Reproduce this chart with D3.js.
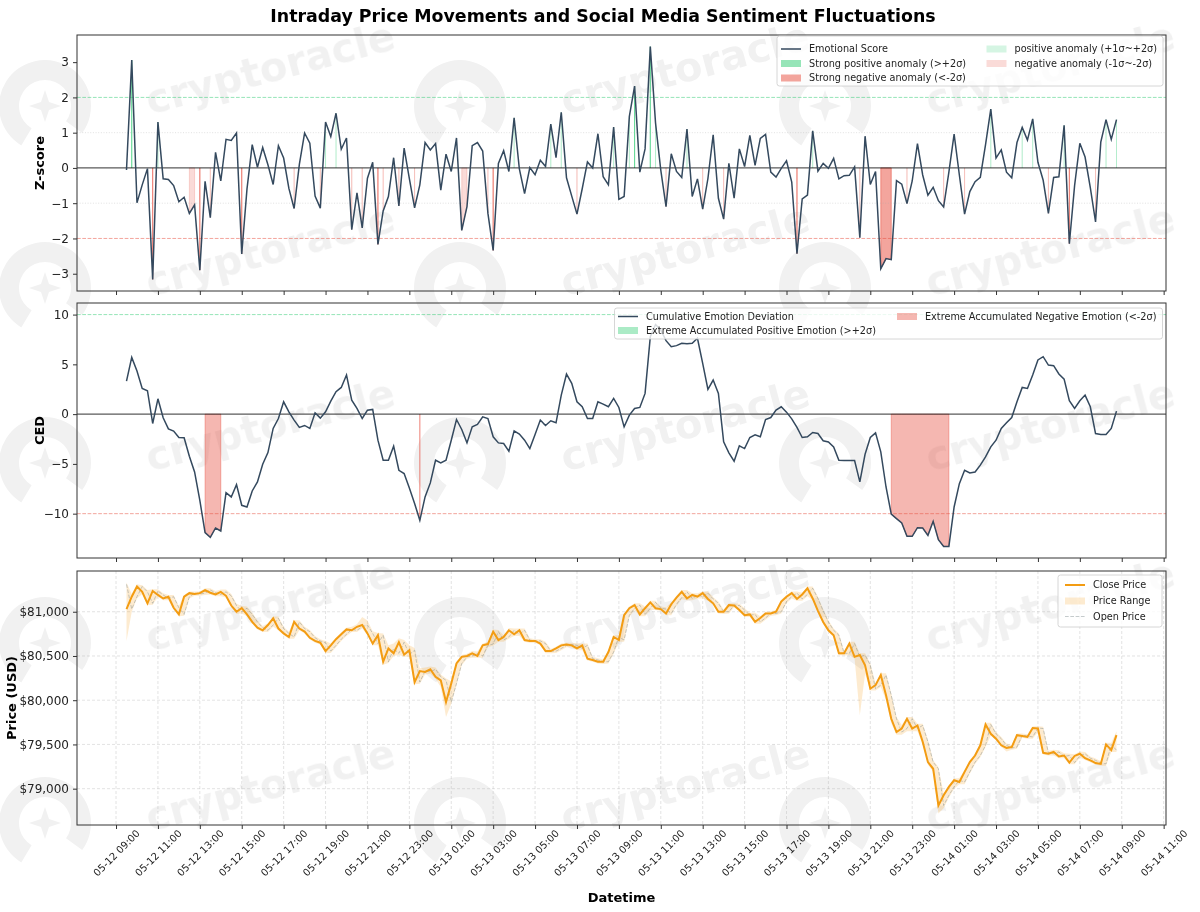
<!DOCTYPE html>
<html>
<head>
<meta charset="utf-8">
<script src="https://cdn.jsdelivr.net/npm/d3@7"></script>
<style>
  body { margin: 0; background: #fff; }
  svg text { font-family: "DejaVu Sans", sans-serif; }
</style>
</head>
<body>
<svg id="chart" width="1200" height="912"></svg>
<script>
// time axis: one reading every 15 minutes from 05-12 09:30
const startTime = new Date(2025, 4, 12, 9, 30);
const stepMinutes = 15;

// emotional z-score
const zScore = [
  -0.06, 3.06, -0.99, -0.48, -0.02, -3.16, 1.30, -0.31, -0.33, -0.50,
  -0.96, -0.83, -1.29, -1.05, -2.90, -0.38, -1.41, 0.44, -0.37, 0.81,
  0.78, 0.99, -2.44, -0.60, 0.66, 0.02, 0.58, 0.09, -0.47, 0.63,
  0.28, -0.58, -1.15, 0.10, 0.99, 0.70, -0.80, -1.14, 1.30, 0.89,
  1.55, 0.53, 0.85, -1.75, -0.71, -1.70, -0.29, 0.16, -2.17, -1.22,
  -0.81, 0.29, -1.08, 0.56, -0.30, -1.13, -0.48, 0.72, 0.51, 0.69,
  -0.63, 0.39, -0.10, 0.85, -1.77, -1.10, 0.63, 0.72, 0.48, -1.29,
  -2.34, 0.13, 0.49, -0.10, 1.42, -0.03, -0.73, 0.01, -0.19, 0.22,
  0.04, 1.24, 0.29, 1.58, -0.28, -0.80, -1.31, -0.59, 0.17, 0.00,
  0.97, -0.25, -0.48, 1.16, -0.89, -0.81, 1.46, 2.32, -0.12, 0.54,
  3.44, 1.27, -0.06, -1.10, 0.40, -0.10, -0.27, 1.10, -0.81, -0.31,
  -1.17, -0.30, 0.94, -0.86, -1.45, 0.13, -0.86, 0.54, 0.04, 0.92,
  0.07, 0.84, 0.95, -0.12, -0.26, -0.01, 0.20, -0.40, -2.43, -0.88,
  -0.77, 1.05, -0.09, 0.13, -0.01, 0.27, -0.31, -0.22, -0.21, 0.03,
  -1.98, 0.90, -0.47, -0.10, -2.86, -2.57, -2.60, -0.36, -0.46, -1.01,
  -0.37, 0.69, -0.20, -0.77, -0.55, -0.93, -1.11, -0.12, 0.96, -0.20,
  -1.31, -0.67, -0.39, -0.27, 0.66, 1.67, 0.28, 0.51, -0.12, -0.28,
  0.72, 1.15, 0.79, 1.39, 0.16, -0.35, -1.29, -0.27, -0.25, 1.21,
  -2.15, -0.50, 0.70, 0.31, -0.56, -1.53, 0.73, 1.37, 0.81, 1.37
];

// cumulative emotion deviation
const cedValues = [
  3.32, 5.70, 4.33, 2.58, 2.35, -0.94, 1.54, -0.37, -1.48, -1.71,
  -2.35, -2.38, -4.23, -5.81, -8.66, -11.91, -12.38, -11.44, -11.74, -7.89,
  -8.32, -7.08, -9.16, -9.33, -7.72, -6.81, -5.03, -3.86, -1.44, -0.44,
  1.24, 0.23, -0.60, -1.34, -1.14, -1.44, 0.13, -0.40, 0.23, 1.31,
  2.25, 2.68, 3.93, 1.41, 0.57, -0.44, 0.40, 0.47, -2.62, -4.63,
  -4.63, -3.22, -5.64, -5.97, -7.42, -8.99, -10.67, -8.32, -6.91, -4.63,
  -4.90, -4.63, -2.62, -0.54, -1.54, -2.89, -1.28, -1.04, -0.27, -0.44,
  -2.28, -2.89, -2.95, -3.72, -1.68, -2.01, -2.62, -3.46, -2.05, -0.60,
  -1.14, -0.67, -0.87, 1.91, 4.03, 3.09, 1.24, 0.74, -0.44, -0.44,
  1.24, 1.01, 0.74, 1.58, 0.67, -1.28, -0.10, 0.57, 0.67, 2.08,
  7.79, 9.00, 8.46, 7.38, 6.78, 6.88, 7.11, 7.08, 7.11, 7.62,
  5.10, 2.48, 3.42, 2.08, -2.79, -3.89, -4.73, -3.19, -3.46, -2.35,
  -2.08, -2.28, -0.54, -0.34, 0.40, 0.74, 0.20, -0.47, -1.34, -2.35,
  -2.28, -1.85, -1.95, -2.68, -2.79, -3.29, -4.63, -4.66, -4.66, -4.66,
  -6.81, -4.03, -2.35, -1.88, -3.79, -7.32, -10.05, -10.50, -10.94, -12.28,
  -12.28, -11.41, -11.44, -12.18, -10.77, -12.62, -13.29, -13.29, -9.33, -6.98,
  -5.64, -5.91, -5.81, -5.13, -4.30, -3.29, -2.62, -1.44, -0.87, -0.34,
  1.24, 2.68, 2.58, 3.93, 5.44, 5.77, 4.93, 4.87, 4.03, 3.52,
  1.34, 0.57, 1.34, 1.91, 0.74, -1.95, -2.05, -2.05, -1.44, 0.30
];

// prices (USD)
const closePrice = [
  81030, 81170, 81285, 81225, 81095, 81235, 81190, 81150, 81170, 81045,
  80970, 81170, 81210, 81200, 81210, 81245, 81215, 81195, 81225, 81180,
  81070, 81000, 81040, 80970, 80885, 80820, 80790, 80850, 80925, 80810,
  80755, 80715, 80885, 80810, 80775, 80705, 80670, 80650, 80555, 80620,
  80690, 80745, 80800, 80790, 80830, 80850, 80755, 80640, 80735, 80435,
  80585, 80530, 80655, 80515, 80565, 80205, 80330, 80320, 80350, 80265,
  80225, 79980, 80190, 80415, 80490, 80500, 80530, 80500, 80620, 80635,
  80775, 80680, 80715, 80790, 80745, 80790, 80680, 80670, 80670, 80640,
  80555, 80555, 80585, 80620, 80630, 80620, 80585, 80620, 80470, 80455,
  80435, 80435, 80545, 80715, 80680, 80960, 81040, 81075, 80970, 81040,
  81105, 81040, 81030, 80980, 81085, 81160, 81225, 81150, 81190, 81170,
  81210, 81145, 81095, 81000, 81000, 81075, 81070, 81020, 80960, 80970,
  80885, 80930, 80980, 80980, 81000, 81115, 81170, 81210, 81145, 81195,
  81265, 81150, 81010, 80885, 80790, 80735, 80530, 80530, 80640, 80490,
  80510, 80395, 80130, 80170, 80285, 80055, 79790, 79640, 79680, 79790,
  79680, 79715, 79530, 79300, 79225, 78810, 78925, 79020, 79095, 79075,
  79190, 79300, 79375, 79490, 79725, 79620, 79565, 79490, 79460, 79470,
  79605, 79595, 79585, 79685, 79680, 79405, 79395, 79415, 79365, 79375,
  79295, 79370, 79395, 79345, 79320, 79290, 79280, 79500, 79435, 79605
];
const openPrice = [
  81310, 81030, 81170, 81285, 81225, 81095, 81235, 81190, 81150, 81170,
  81045, 80970, 81170, 81210, 81200, 81210, 81245, 81215, 81195, 81225,
  81180, 81070, 81000, 81040, 80970, 80885, 80820, 80790, 80850, 80925,
  80810, 80755, 80715, 80885, 80810, 80775, 80705, 80670, 80650, 80555,
  80620, 80690, 80745, 80800, 80790, 80830, 80850, 80755, 80640, 80735,
  80435, 80585, 80530, 80655, 80515, 80565, 80205, 80330, 80320, 80350,
  80265, 80225, 79980, 80190, 80415, 80490, 80500, 80530, 80500, 80620,
  80635, 80775, 80680, 80715, 80790, 80745, 80790, 80680, 80670, 80670,
  80640, 80555, 80555, 80585, 80620, 80630, 80620, 80585, 80620, 80470,
  80455, 80435, 80435, 80545, 80715, 80680, 80960, 81040, 81075, 80970,
  81040, 81105, 81040, 81030, 80980, 81085, 81160, 81225, 81150, 81190,
  81170, 81210, 81145, 81095, 81000, 81000, 81075, 81070, 81020, 80960,
  80970, 80885, 80930, 80980, 80980, 81000, 81115, 81170, 81210, 81145,
  81195, 81265, 81150, 81010, 80885, 80790, 80735, 80530, 80530, 80640,
  80490, 80510, 80395, 80130, 80170, 80285, 80055, 79790, 79640, 79680,
  79790, 79680, 79715, 79530, 79300, 79225, 78810, 78925, 79020, 79095,
  79075, 79190, 79300, 79375, 79490, 79725, 79620, 79565, 79490, 79460,
  79470, 79605, 79595, 79585, 79685, 79680, 79405, 79395, 79415, 79365,
  79375, 79295, 79370, 79395, 79345, 79320, 79290, 79280, 79500, 79435
];
const highPrice = [
  81330, 81200, 81310, 81300, 81245, 81255, 81255, 81210, 81190, 81190,
  81065, 81190, 81230, 81230, 81230, 81265, 81265, 81235, 81250, 81250,
  81200, 81090, 81065, 81060, 80990, 80905, 80840, 80870, 80945, 80945,
  80830, 80775, 80905, 80905, 80830, 80795, 80725, 80690, 80670, 80640,
  80710, 80765, 80820, 80830, 80860, 80940, 80900, 80780, 80760, 80755,
  80620, 80640, 80700, 80680, 80620, 80590, 80360, 80370, 80380, 80370,
  80290, 80245, 80215, 80440, 80510, 80525, 80555, 80550, 80640, 80660,
  80800, 80795, 80735, 80815, 80810, 80810, 80810, 80700, 80690, 80690,
  80660, 80580, 80605, 80640, 80650, 80650, 80640, 80640, 80640, 80490,
  80475, 80460, 80565, 80735, 80735, 80980, 81060, 81095, 81095, 81060,
  81125, 81125, 81060, 81050, 81105, 81180, 81245, 81245, 81210, 81210,
  81230, 81230, 81165, 81115, 81025, 81095, 81095, 81090, 81040, 80990,
  80990, 80950, 81000, 81005, 81020, 81135, 81190, 81230, 81230, 81215,
  81285, 81285, 81170, 81030, 80905, 80810, 80755, 80555, 80660, 80660,
  80530, 80530, 80415, 80190, 80305, 80305, 80075, 79810, 79720, 79810,
  79810, 79735, 79735, 79550, 79320, 79245, 78945, 79040, 79115, 79120,
  79210, 79320, 79395, 79510, 79745, 79745, 79640, 79585, 79510, 79495,
  79625, 79625, 79615, 79705, 79705, 79700, 79430, 79440, 79435, 79400,
  79395, 79390, 79420, 79415, 79365, 79340, 79310, 79520, 79520, 79650
];
const lowPrice = [
  80670, 81000, 81150, 81200, 81075, 81080, 81170, 81130, 81130, 81025,
  80950, 80955, 81150, 81180, 81180, 81190, 81195, 81175, 81175, 81160,
  81050, 80975, 80980, 80950, 80865, 80800, 80770, 80770, 80830, 80790,
  80735, 80695, 80695, 80790, 80755, 80685, 80650, 80630, 80530, 80535,
  80600, 80670, 80725, 80770, 80770, 80810, 80735, 80620, 80620, 80400,
  80420, 80500, 80510, 80490, 80490, 80180, 80185, 80290, 80300, 80240,
  80150, 79810, 79960, 80170, 80395, 80470, 80480, 80480, 80480, 80600,
  80615, 80660, 80660, 80695, 80725, 80725, 80660, 80650, 80650, 80620,
  80530, 80530, 80535, 80565, 80600, 80600, 80565, 80565, 80450, 80435,
  80415, 80410, 80415, 80525, 80660, 80660, 80940, 81020, 80950, 80950,
  81020, 81020, 81010, 80960, 80960, 81065, 81140, 81130, 81130, 81150,
  81150, 81125, 81075, 80980, 80975, 80980, 81050, 81000, 80940, 80940,
  80865, 80865, 80910, 80955, 80960, 80980, 81095, 81150, 81125, 81125,
  81175, 81130, 80990, 80865, 80770, 80715, 80510, 80505, 80510, 80470,
  79830, 80300, 80110, 80110, 80150, 80000, 79740, 79610, 79610, 79650,
  79650, 79650, 79500, 79270, 79190, 78720, 78780, 78900, 79000, 79050,
  79050, 79170, 79280, 79355, 79470, 79600, 79545, 79470, 79420, 79440,
  79450, 79575, 79565, 79565, 79640, 79385, 79375, 79375, 79345, 79345,
  79275, 79275, 79350, 79325, 79300, 79270, 79260, 79260, 79415, 79415
];

// thresholds and ticks
const zStrong = 2, zMild = 1;
const cedLimit = 10;
const zTicks = [-3, -2, -1, 0, 1, 2, 3];
const cedTicks = [-10, -5, 0, 5, 10];
const priceTicks = [79000, 79500, 80000, 80500, 81000];

const times = zScore.map((_, i) => d3.timeMinute.offset(startTime, i * stepMinutes));

const svg = d3.select("#chart");
const plotLeft = 77, plotRight = 1166;
const panelBoxes = [
  { top: 35, bottom: 291 },
  { top: 303, bottom: 558 },
  { top: 571, bottom: 825 }
];

const C = {
  line: "#34495e",
  green: "#2ecc71",
  red: "#e74c3c",
  orange: "#f39c12",
  open: "#7f8c8d",
  spine: "#333"
};

// watermark tiles (drawn first so everything sits on top)
const wm = svg.append("g").attr("opacity", 0.055);
[68, 250, 425, 605, 785].forEach(cy => {
  [270, 685, 1050].forEach(cx => {
    wm.append("text")
      .attr("transform", `translate(${cx},${cy}) rotate(-15)`)
      .attr("text-anchor", "middle")
      .attr("dy", "0.35em")
      .attr("font-size", 40)
      .attr("font-weight", "bold")
      .attr("fill", "#000")
      .text("cryptoracle");
    const lg = wm.append("g").attr("transform", `translate(${cx - 225},${cy + 38})`);
    lg.append("path")
      .attr("d", d3.arc()({ innerRadius: 26, outerRadius: 46, startAngle: -2.6, endAngle: 2.2 }))
      .attr("fill", "#000");
    lg.append("path")
      .attr("d", "M0,-16 L4,-4 L16,0 L4,4 L0,16 L-4,4 L-16,0 L-4,-4 Z")
      .attr("fill", "#000");
  });
});

// x scale with 5% margins
const tExt = d3.extent(times);
const tSpan = tExt[1] - tExt[0];
const x = d3.scaleTime()
  .domain([new Date(+tExt[0] - tSpan * 0.05), new Date(+tExt[1] + tSpan * 0.05)])
  .range([plotLeft, plotRight]);
const xTicks = d3.timeHour.range(new Date(2025, 4, 12, 9), new Date(2025, 4, 14, 11, 1), 2);

function padded(lo, hi) {
  const r = hi - lo;
  return [lo - r * 0.05, hi + r * 0.05];
}

function runs(values, test) {
  const out = [];
  let s = -1;
  values.forEach((v, i) => {
    if (test(v)) { if (s < 0) s = i; }
    else if (s >= 0) { out.push([s, i - 1]); s = -1; }
  });
  if (s >= 0) out.push([s, values.length - 1]);
  return out;
}

function drawFill(g, y, values, test, color, opacity) {
  const area = d3.area()
    .x(i => x(times[i]))
    .y0(y(0))
    .y1(i => y(values[i]));
  runs(values, test).forEach(([a, b]) => {
    g.append("path")
      .attr("d", area(d3.range(a, b + 1)))
      .attr("fill", color).attr("fill-opacity", opacity)
      .attr("stroke", color).attr("stroke-opacity", opacity)
      .attr("stroke-width", 1);
  });
}

function hline(g, y, v, color, opacity, dash, width) {
  g.append("line")
    .attr("x1", plotLeft).attr("x2", plotRight)
    .attr("y1", y(v)).attr("y2", y(v))
    .attr("stroke", color).attr("stroke-opacity", opacity)
    .attr("stroke-width", width || 1)
    .attr("stroke-dasharray", dash || null);
}

function makePanel(idx, domain) {
  const box = panelBoxes[idx];
  const y = d3.scaleLinear().domain(domain).range([box.bottom, box.top]);
  const g = svg.append("g");
  svg.append("clipPath").attr("id", "clip" + idx)
    .append("rect")
    .attr("x", plotLeft).attr("y", box.top)
    .attr("width", plotRight - plotLeft).attr("height", box.bottom - box.top);
  const plot = g.append("g").attr("clip-path", `url(#clip${idx})`);
  return { y, g, plot, box };
}

function finishPanel(p, ticks, fmt, label, labelX, showX) {
  const { y, g, box } = p;
  const ya = g.append("g")
    .attr("transform", `translate(${plotLeft},0)`)
    .call(d3.axisLeft(y).tickValues(ticks).tickFormat(fmt).tickSize(4).tickPadding(4));
  ya.select(".domain").remove();
  ya.attr("font-family", null).attr("font-size", null);
  ya.selectAll("text").attr("font-size", 12).attr("fill", "#222");
  ya.selectAll("line").attr("stroke", C.spine);

  const xa = g.append("g")
    .attr("transform", `translate(0,${box.bottom})`)
    .call(d3.axisBottom(x).tickValues(xTicks).tickFormat(d3.timeFormat("%m-%d %H:%M")).tickSize(4));
  xa.select(".domain").remove();
  xa.attr("font-family", null).attr("font-size", null);
  xa.selectAll("line").attr("stroke", C.spine);
  if (showX) {
    // rotated labels centred under their tick
    xa.selectAll("text")
      .attr("font-size", 10).attr("fill", "#222")
      .attr("text-anchor", "middle")
      .attr("y", 0).attr("dy", "0.35em")
      .attr("transform", "translate(0,28) rotate(-45)");
  } else {
    xa.selectAll("text").remove();
  }

  g.append("rect")
    .attr("x", plotLeft).attr("y", box.top)
    .attr("width", plotRight - plotLeft).attr("height", box.bottom - box.top)
    .attr("fill", "none").attr("stroke", C.spine).attr("stroke-width", 1);

  g.append("text")
    .attr("transform", `translate(${labelX},${(box.top + box.bottom) / 2}) rotate(-90)`)
    .attr("text-anchor", "middle")
    .attr("font-size", 13).attr("font-weight", "bold").attr("fill", "#000")
    .text(label);
}

function drawLegend(box, entries) {
  const lg = svg.append("g");
  lg.append("rect")
    .attr("x", box.x).attr("y", box.y).attr("width", box.w).attr("height", box.h)
    .attr("rx", 2.5).attr("fill", "#fff").attr("fill-opacity", 0.8)
    .attr("stroke", "#ccc").attr("stroke-width", 0.8);
  entries.forEach(e => {
    if (e.kind === "line") {
      lg.append("line")
        .attr("x1", e.x).attr("x2", e.x + 20).attr("y1", e.y).attr("y2", e.y)
        .attr("stroke", e.color).attr("stroke-width", e.width || 1.5)
        .attr("stroke-opacity", e.opacity || 1)
        .attr("stroke-dasharray", e.dash || null);
    } else {
      lg.append("rect")
        .attr("x", e.x).attr("y", e.y - 3.5).attr("width", 20).attr("height", 7)
        .attr("fill", e.color).attr("fill-opacity", e.opacity);
    }
    lg.append("text")
      .attr("x", e.x + 28).attr("y", e.y).attr("dy", "0.35em")
      .attr("font-size", 9.7).attr("fill", "#222")
      .text(e.label);
  });
}

// ---- title
svg.append("text")
  .attr("x", 603).attr("y", 22)
  .attr("text-anchor", "middle")
  .attr("font-size", 17.4).attr("font-weight", "bold").attr("fill", "#000")
  .text("Intraday Price Movements and Social Media Sentiment Fluctuations");

// ---- panel 1: z-score
const p1 = makePanel(0, padded(d3.min(zScore), d3.max(zScore)));
drawFill(p1.plot, p1.y, zScore, v => v > zStrong, C.green, 0.5);
drawFill(p1.plot, p1.y, zScore, v => v < -zStrong, C.red, 0.5);
drawFill(p1.plot, p1.y, zScore, v => v > zMild && v <= zStrong, C.green, 0.2);
drawFill(p1.plot, p1.y, zScore, v => v < -zMild && v >= -zStrong, C.red, 0.2);
hline(p1.plot, p1.y, zStrong, C.green, 0.5, "3.7,1.6");
hline(p1.plot, p1.y, -zStrong, C.red, 0.5, "3.7,1.6");
hline(p1.plot, p1.y, zMild, "#aaa", 0.35, "1,1.65");
hline(p1.plot, p1.y, -zMild, "#aaa", 0.35, "1,1.65");
hline(p1.plot, p1.y, 0, "#000", 0.65, null, 1.2);
p1.plot.append("path")
  .datum(zScore)
  .attr("d", d3.line().x((d, i) => x(times[i])).y(d => p1.y(d)))
  .attr("fill", "none").attr("stroke", C.line).attr("stroke-width", 1.5);
finishPanel(p1, zTicks, d3.format("d"), "Z-score", 44, false);

drawLegend({ x: 777, y: 36, w: 386, h: 50 }, [
  { kind: "line", x: 781, y: 49, color: C.line, label: "Emotional Score" },
  { kind: "patch", x: 781, y: 63.5, color: C.green, opacity: 0.5, label: "Strong positive anomaly (>+2σ)" },
  { kind: "patch", x: 781, y: 78, color: C.red, opacity: 0.5, label: "Strong negative anomaly (<-2σ)" },
  { kind: "patch", x: 986.5, y: 49, color: C.green, opacity: 0.2, label: "positive anomaly (+1σ~+2σ)" },
  { kind: "patch", x: 986.5, y: 63.5, color: C.red, opacity: 0.2, label: "negative anomaly (-1σ~-2σ)" }
]);

// ---- panel 2: CED
const cedDomain = padded(Math.min(d3.min(cedValues), -cedLimit), Math.max(d3.max(cedValues), cedLimit));
const p2 = makePanel(1, cedDomain);
drawFill(p2.plot, p2.y, cedValues, v => v > cedLimit, C.green, 0.4);
drawFill(p2.plot, p2.y, cedValues, v => v < -cedLimit, C.red, 0.4);
hline(p2.plot, p2.y, cedLimit, C.green, 0.5, "3.7,1.6");
hline(p2.plot, p2.y, -cedLimit, C.red, 0.5, "3.7,1.6");
hline(p2.plot, p2.y, 0, "#000", 0.65, null, 1.2);
p2.plot.append("path")
  .datum(cedValues)
  .attr("d", d3.line().x((d, i) => x(times[i])).y(d => p2.y(d)))
  .attr("fill", "none").attr("stroke", C.line).attr("stroke-width", 1.5);
finishPanel(p2, cedTicks, d3.format("d"), "CED", 44, false);

drawLegend({ x: 614.5, y: 308, w: 548, h: 31 }, [
  { kind: "line", x: 618, y: 316.5, color: C.line, label: "Cumulative Emotion Deviation" },
  { kind: "patch", x: 618, y: 330.5, color: C.green, opacity: 0.4, label: "Extreme Accumulated Positive Emotion (>+2σ)" },
  { kind: "patch", x: 897, y: 316.5, color: C.red, opacity: 0.4, label: "Extreme Accumulated Negative Emotion (<-2σ)" }
]);

// ---- panel 3: price
const p3 = makePanel(2, padded(d3.min(lowPrice), d3.max(highPrice)));
const grid = p3.plot.append("g");
xTicks.forEach(t => {
  grid.append("line")
    .attr("x1", x(t)).attr("x2", x(t)).attr("y1", p3.box.top).attr("y2", p3.box.bottom)
    .attr("stroke", "#b0b0b0").attr("stroke-opacity", 0.35).attr("stroke-dasharray", "3,2");
});
priceTicks.forEach(v => {
  grid.append("line")
    .attr("x1", plotLeft).attr("x2", plotRight).attr("y1", p3.y(v)).attr("y2", p3.y(v))
    .attr("stroke", "#b0b0b0").attr("stroke-opacity", 0.35).attr("stroke-dasharray", "3,2");
});
p3.plot.append("path")
  .datum(closePrice)
  .attr("d", d3.area().x((d, i) => x(times[i])).y0((d, i) => p3.y(lowPrice[i])).y1((d, i) => p3.y(highPrice[i])))
  .attr("fill", C.orange).attr("fill-opacity", 0.2);
p3.plot.append("path")
  .datum(openPrice)
  .attr("d", d3.line().x((d, i) => x(times[i])).y(d => p3.y(d)))
  .attr("fill", "none").attr("stroke", C.open).attr("stroke-opacity", 0.5)
  .attr("stroke-width", 0.9).attr("stroke-dasharray", "3.7,1.6");
p3.plot.append("path")
  .datum(closePrice)
  .attr("d", d3.line().x((d, i) => x(times[i])).y(d => p3.y(d)))
  .attr("fill", "none").attr("stroke", C.orange).attr("stroke-width", 2);
finishPanel(p3, priceTicks, d3.format("$,.0f"), "Price (USD)", 16, true);

drawLegend({ x: 1058, y: 575, w: 104, h: 52 }, [
  { kind: "line", x: 1065, y: 585, color: C.orange, width: 2, label: "Close Price" },
  { kind: "patch", x: 1065, y: 601, color: C.orange, opacity: 0.2, label: "Price Range" },
  { kind: "line", x: 1065, y: 616.5, color: C.open, width: 0.9, opacity: 0.5, dash: "3.7,1.6", label: "Open Price" }
]);

svg.append("text")
  .attr("x", (plotLeft + plotRight) / 2).attr("y", 902)
  .attr("text-anchor", "middle")
  .attr("font-size", 13).attr("font-weight", "bold").attr("fill", "#000")
  .text("Datetime");
</script>
</body>
</html>
